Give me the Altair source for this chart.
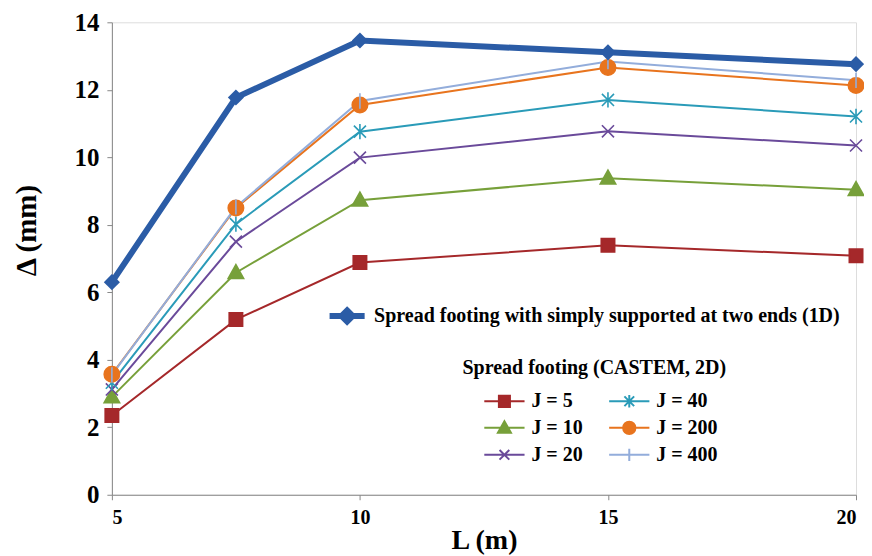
import altair as alt
import pandas as pd

# ---- data ----
L_values = [5, 7.5, 10, 15, 20]
oned_values = [6.3, 11.77, 13.46, 13.11, 12.76]
j5_values = [2.35, 5.19, 6.88, 7.39, 7.08]
j10_values = [2.9, 6.58, 8.73, 9.38, 9.04]
j20_values = [3.12, 7.5, 9.99, 10.77, 10.35]
j40_values = [3.32, 8.02, 10.76, 11.7, 11.21]
j200_values = [3.57, 8.5, 11.55, 12.66, 12.13]
j400_values = [3.55, 8.53, 11.67, 12.84, 12.28]

j_names = ["J = 5", "J = 10", "J = 20", "J = 40", "J = 200", "J = 400"]
j_colors = ["#A5282A", "#77A03A", "#6A4A9A", "#2A9BB8", "#E8741E", "#93ADDB"]
oned_name = "Spread footing with simply supported at two ends (1D)"
oned_color = "#2B5CA6"
legend_title = "Spread footing (CASTEM, 2D)"
x_ticks = [5, 10, 15, 20]
y_ticks = [0, 2, 4, 6, 8, 10, 12, 14]

# marker shapes for the plot (unit paths)
plot_shapes = [
    "M-1,-1H1V1H-1Z",
    "M0,-1.2L1.15,0.85H-1.15Z",
    "M-0.9,-0.9L0.9,0.9M-0.9,0.9L0.9,-0.9",
    "M-0.9,-0.9L0.9,0.9M-0.9,0.9L0.9,-0.9M0,-1.15V1.15",
    "M-1.15,0A1.15,1.15 0 1,0 1.15,0A1.15,1.15 0 1,0 -1.15,0Z",
    "M0,-1.15V1.15",
]
# legend symbols: line + marker
LN = "M-3.1,0H3.1"
legend_shapes = [
    LN + "M-0.85,-0.85H0.85V0.85H-0.85Z",
    LN + "M0,-1L1,0.75H-1Z",
    LN + "M-0.75,-0.75L0.75,0.75M-0.75,0.75L0.75,-0.75",
    LN + "M-0.75,-0.75L0.75,0.75M-0.75,0.75L0.75,-0.75M0,-0.95V0.95",
    LN + "M-0.95,0A0.95,0.95 0 1,0 0.95,0A0.95,0.95 0 1,0 -0.95,0Z",
    LN + "M0,-0.95V0.95",
]
oned_legend_shape = "M-2.7,0H2.7M0,-0.85L0.85,0L0,0.85L-0.85,0Z"

series = [j5_values, j10_values, j20_values, j40_values, j200_values, j400_values]
rows = []
for name, vals in zip(j_names, series):
    for i, (x, y) in enumerate(zip(L_values, vals)):
        rows.append({"L": x, "D": y, "series": name, "order": i})
jdf = pd.DataFrame(rows)
odf = pd.DataFrame({"L": L_values, "D": oned_values, "series": oned_name,
                    "order": list(range(len(L_values)))})

FONT = "Liberation Serif"

x_enc = alt.X("L:Q", scale=alt.Scale(domain=[5, 20], nice=False),
              axis=alt.Axis(values=x_ticks, title="L (m)", grid=False,
                            labelFont=FONT, titleFont=FONT,
                            labelFontSize=20, labelFontWeight="bold",
                            labelPadding=8, titleFontSize=28,
                            titleFontWeight="bold", titleY=46,
                            titleBaseline="middle"))
y_enc = alt.Y("D:Q", scale=alt.Scale(domain=[0, 14], nice=False),
              axis=alt.Axis(values=y_ticks, title="Δ (mm)", grid=False,
                            labelFont=FONT, titleFont=FONT,
                            labelFontSize=25, labelFontWeight="bold",
                            labelPadding=8, titleFontSize=29,
                            titleFontWeight="bold", titleAngle=-90,
                            titleX=-85, titleY=208, titleAlign="center",
                            titleBaseline="middle"))

jcolor_scale = alt.Scale(domain=j_names, range=j_colors)

jlines = alt.Chart(jdf).mark_line(strokeWidth=2).encode(
    x=x_enc, y=y_enc,
    color=alt.Color("series:N", scale=jcolor_scale, legend=None),
    detail="series:N", order="order:Q")

jpoints = alt.Chart(jdf).mark_point(filled=True, opacity=1, size=180, strokeWidth=1.6).encode(
    x="L:Q", y="D:Q",
    fill=alt.Fill("series:N", scale=jcolor_scale, legend=None),
    stroke=alt.Stroke("series:N", scale=jcolor_scale, legend=None),
    shape=alt.Shape("series:N", scale=alt.Scale(domain=j_names, range=plot_shapes), legend=None))

oline = alt.Chart(odf).mark_line(strokeWidth=6, color=oned_color).encode(
    x="L:Q", y="D:Q", order="order:Q")
opoints = alt.Chart(odf).mark_point(filled=True, opacity=1, size=260, shape="diamond",
                                    color=oned_color).encode(x="L:Q", y="D:Q")

# legend-only layers (no data rows drawn); legend fills column by column
leg_scale = alt.Scale(domain=j_names, range=j_colors)
jlegend = alt.Chart(jdf).transform_filter("false").mark_point(
    filled=True, opacity=1, size=169, strokeWidth=2).encode(
    fill=alt.Fill("series:N", scale=leg_scale, legend=None),
    stroke=alt.Stroke("series:N", scale=leg_scale, legend=None),
    shape=alt.Shape("series:N", scale=alt.Scale(domain=j_names, range=legend_shapes),
                    legend=alt.Legend(
                        title=legend_title, orient="none", legendX=351, legendY=336,
                        columns=2, columnPadding=4, rowPadding=5,
                        symbolSize=169, symbolStrokeWidth=2, symbolOffset=32,
                        labelOffset=17, labelFontSize=20, labelFontWeight="bold",
                        labelFont=FONT, labelColor="black",
                        titleFontSize=20, titleFontWeight="bold", titleFont=FONT,
                        titleColor="black", titlePadding=13, titleLimit=400)))

olegend = alt.Chart(odf).transform_filter("false").mark_point(
    filled=True, opacity=1, size=169, strokeWidth=6).encode(
    fill=alt.Fill("series:N", scale=alt.Scale(domain=[oned_name], range=[oned_color]), legend=None),
    stroke=alt.Stroke("series:N", scale=alt.Scale(domain=[oned_name], range=[oned_color]), legend=None),
    shape=alt.Shape("series:N", scale=alt.Scale(domain=[oned_name], range=[oned_legend_shape]),
                    legend=alt.Legend(
                        title=None, orient="none", legendX=208, legendY=284,
                        symbolSize=169, symbolStrokeWidth=6, symbolOffset=17.5,
                        labelOffset=17, labelFontSize=20, labelFontWeight="bold",
                        labelFont=FONT, labelColor="black", labelLimit=600)))

chart = alt.layer(jlines, jpoints, oline, opoints, jlegend, olegend).resolve_scale(
    color="independent", fill="independent", stroke="independent", shape="independent"
).properties(
    width=745, height=473,
    autosize=alt.AutoSizeParams(type="none"),
    padding={"left": 104, "top": 14, "right": 8, "bottom": 60},
).configure_view(stroke=None).configure_axis(
    domainColor="black", domainWidth=2.5, tickColor="black", tickWidth=2.5,
    tickSize=7, labelColor="black", titleColor="black",
    labelFont=FONT, titleFont=FONT,
).configure(background="white", font=FONT)

chart.save("out.html", embed_options={"renderer": "svg", "actions": False})
